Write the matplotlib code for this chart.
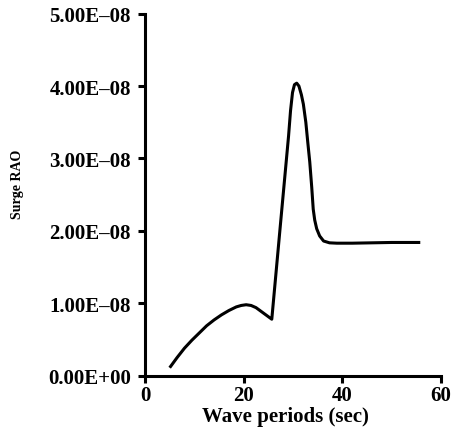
import numpy as np
import matplotlib.pyplot as plt
from matplotlib.ticker import FuncFormatter

# periodos (s) e RAO de surge
periodo = [5, 6.5, 8, 9.5, 11, 12.5, 14, 15.5, 17, 18.5, 19.5, 20.5, 21.5, 22.5, 23.5, 24.5, 25.7,
           27.4, 29.1, 29.5, 29.9, 30.3, 30.75, 31.2, 31.7, 32.1, 32.6, 33.0, 33.4, 33.8, 34.1, 34.4, 34.8,
           35.4, 36.2, 37.4, 38.9, 42, 46, 50, 53, 55.8]
surge = [0.11e-8, 0.25e-8, 0.38e-8, 0.49e-8, 0.59e-8, 0.69e-8, 0.77e-8, 0.84e-8, 0.90e-8, 0.95e-8, 0.97e-8, 0.98e-8,
         0.97e-8, 0.94e-8, 0.89e-8, 0.84e-8, 0.78e-8,
         2.05e-8, 3.31e-8, 3.66e-8, 3.91e-8, 4.02e-8, 4.04e-8, 4.00e-8, 3.88e-8, 3.75e-8, 3.50e-8, 3.22e-8, 2.95e-8,
         2.60e-8, 2.30e-8, 2.15e-8, 2.03e-8,
         1.93e-8, 1.86e-8, 1.835e-8, 1.83e-8, 1.83e-8, 1.835e-8, 1.84e-8, 1.84e-8, 1.84e-8]

plt.rcParams['font.family'] = ['Liberation Serif', 'DejaVu Serif']

fig = plt.figure(figsize=(4.53, 4.31), dpi=100)
ax = fig.add_axes([0.3201, 0.126, 0.6534, 0.840])

ax.plot(periodo, surge, color='black', linewidth=2.2, solid_capstyle='butt', solid_joinstyle='round')

ax.set_xlim(0, 60)
ax.set_ylim(0, 5e-8)
ax.set_xticks([0, 20, 40, 60])
ax.set_yticks([0, 1e-8, 2e-8, 3e-8, 4e-8, 5e-8])
ax.yaxis.set_major_formatter(FuncFormatter(lambda v, p: ('%.2E' % v).replace('-', '\u2013')))

for s in ['top', 'right']:
    ax.spines[s].set_visible(False)
for s in ['left', 'bottom']:
    ax.spines[s].set_linewidth(2.2)
ax.tick_params(direction='out', length=5, width=2.2, labelsize=15)
ax.tick_params(axis='y', pad=5)
ax.tick_params(axis='x', pad=2)
for lb in ax.get_xticklabels() + ax.get_yticklabels():
    lb.set_fontweight('bold')

ax.set_xlabel('Wave periods (sec)', fontsize=15, fontweight='bold')
ax.xaxis.set_label_coords(0.475, -0.083, transform=ax.transAxes)
ax.xaxis.label.set_va('top')
fig.text(18 / 453, 1 - 184 / 431, 'Surge RAO', rotation=90, ha='center', va='center',
         fontsize=10, fontweight='bold')

fig.savefig('out.png', dpi=100)
